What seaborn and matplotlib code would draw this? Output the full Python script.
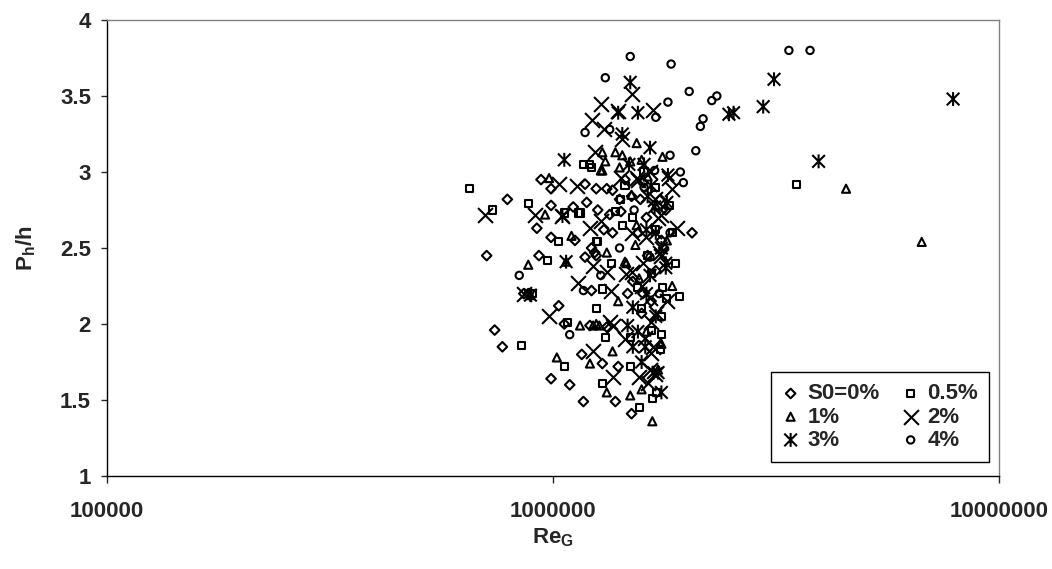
import numpy as np
import matplotlib
matplotlib.use("Agg")
import matplotlib.pyplot as plt
from matplotlib.path import Path
import seaborn as sns

# ── data (Re_G in millions, Ph/h) ─────────────────────────────

re_s0 = [0.79, 0.92, 0.94, 0.99, 0.99, 1.11, 1.18, 0.71, 0.74, 0.77, 0.93, 0.86,
         1.03, 1.06, 0.99, 1.09, 1.17, 0.99, 1.18, 1.22, 1.25, 1.22, 1.21, 1.32,
         1.16, 1.29, 1.38, 1.40, 1.50, 2.05, 1.19, 1.25, 1.32, 1.41, 1.50, 1.57,
         1.26, 1.34, 1.24, 1.36, 1.42, 1.59, 1.74, 1.79, 1.75, 1.63, 1.58, 1.59,
         1.51, 0.88, 1.45, 1.62, 1.70, 1.55, 1.47, 1.66, 1.30, 1.12, 1.36, 1.77]
ph_s0 = [2.82, 2.63, 2.95, 2.78, 2.89, 2.77, 2.92, 2.45, 1.96, 1.85, 2.45, 2.20,
         2.12, 2.00, 1.64, 1.60, 1.49, 2.57, 2.44, 2.50, 2.45, 2.22, 1.99, 1.98,
         1.80, 1.74, 1.49, 1.72, 1.41, 2.60, 2.80, 2.89, 2.89, 2.82, 2.84, 2.82,
         2.75, 2.72, 2.47, 2.60, 2.74, 2.93, 2.82, 2.75, 2.55, 2.45, 2.07, 2.20,
         2.28, 2.20, 2.95, 2.70, 2.35, 2.60, 2.20, 2.15, 2.62, 2.55, 2.88, 2.50]

re_s05 = [0.651, 0.73, 0.88, 1.06, 1.14, 1.17, 1.21, 1.22, 0.97, 0.90, 0.85, 1.08,
          1.06, 1.03, 1.25, 1.29, 1.25, 1.31, 1.29, 1.56, 1.67, 1.71, 1.76, 1.80,
          1.75, 1.75, 1.74, 3.51, 1.38, 1.43, 1.51, 1.45, 1.55, 1.66, 1.49, 1.49,
          1.66, 1.70, 1.15, 1.26, 1.60, 1.82, 1.85, 1.88, 1.63, 1.58, 1.42, 1.35,
          1.92, 1.70]
ph_s05 = [2.89, 2.75, 2.79, 2.73, 2.73, 3.05, 3.05, 3.03, 2.42, 2.20, 1.86, 2.01,
          1.72, 2.54, 2.54, 2.23, 2.10, 1.91, 1.61, 1.45, 1.51, 1.55, 2.24, 2.17,
          2.05, 1.93, 1.83, 2.92, 2.74, 2.65, 2.70, 2.91, 2.24, 1.96, 1.91, 1.72,
          2.33, 2.62, 2.73, 2.54, 3.00, 2.78, 2.60, 2.40, 2.45, 2.10, 2.82, 2.40,
          2.18, 2.90]

re_s1 = [0.96, 0.98, 1.28, 0.88, 0.89, 1.02, 1.10, 1.32, 1.15, 1.23, 1.27, 1.21,
         1.32, 1.49, 1.67, 1.58, 1.54, 1.38, 1.43, 1.49, 1.41, 1.76, 4.54, 6.71,
         1.07, 1.74, 1.29, 1.58, 1.31, 1.29, 1.63, 1.54, 1.53, 1.46, 1.75, 1.25,
         1.45, 1.70, 1.80, 1.56, 1.40, 1.85, 1.62, 1.50, 1.72, 1.36]
ph_s1 = [2.72, 2.96, 3.01, 2.39, 2.19, 1.78, 2.58, 2.47, 1.99, 1.99, 1.99, 1.74,
         1.55, 1.53, 1.36, 1.57, 3.19, 3.13, 3.11, 3.07, 3.03, 3.10, 2.89, 2.54,
         2.41, 1.87, 3.13, 3.08, 3.07, 3.01, 2.97, 2.65, 2.52, 2.40, 1.87, 2.00,
         2.41, 2.78, 2.55, 2.30, 2.15, 2.25, 1.95, 2.85, 1.70, 1.82]

re_s2 = [0.704, 0.91, 1.03, 1.13, 1.22, 1.28, 1.30, 1.50, 1.40, 1.68, 1.82, 1.85,
         1.90, 0.86, 0.98, 1.14, 1.23, 1.35, 1.23, 1.36, 1.56, 1.65, 1.69, 1.36,
         1.32, 1.46, 1.50, 1.43, 1.24, 1.42, 1.54, 1.65, 1.28, 1.69, 1.75, 1.62,
         1.74, 1.59, 1.65, 1.70, 1.61, 1.66, 1.63, 1.66, 1.34, 1.21, 1.05, 1.55,
         1.75, 1.58, 1.80, 1.50, 1.68, 1.45, 1.72]
ph_s2 = [2.72, 2.72, 2.92, 2.91, 3.34, 3.45, 3.28, 3.51, 3.40, 3.41, 2.96, 2.89,
         2.63, 2.20, 2.05, 2.27, 2.38, 2.22, 1.82, 1.65, 1.65, 1.70, 1.67, 1.99,
         2.34, 2.33, 2.34, 3.22, 3.13, 2.96, 2.96, 3.00, 2.68, 2.82, 2.72, 2.57,
         2.47, 2.40, 2.17, 2.07, 1.91, 1.81, 1.61, 2.01, 2.01, 2.63, 2.71, 2.95,
         2.45, 2.25, 2.15, 2.60, 1.85, 1.90, 2.70]

re_s3 = [1.06, 1.40, 1.49, 1.55, 1.65, 1.60, 1.81, 1.51, 1.47, 1.68, 1.72, 2.48,
         2.54, 3.13, 2.96, 3.94, 7.89, 1.43, 1.05, 1.07, 1.63, 1.69, 1.66, 1.79,
         1.51, 1.58, 1.65, 1.79, 1.61, 0.89, 1.70, 1.75, 1.62, 1.55, 1.70, 1.75,
         1.48, 1.80, 1.62]
ph_s3 = [3.08, 3.39, 3.59, 3.39, 3.16, 3.05, 2.98, 2.11, 1.99, 1.68, 1.68, 3.38,
         3.39, 3.61, 3.43, 3.07, 3.48, 3.25, 2.71, 2.41, 2.84, 2.77, 2.91, 2.40,
         1.85, 1.75, 2.32, 2.37, 1.85, 2.19, 2.60, 2.50, 2.20, 1.95, 2.05, 1.55,
         3.05, 2.80, 2.62]

re_s4 = [1.18, 1.31, 1.49, 1.70, 1.81, 1.84, 2.02, 2.27, 2.33, 2.17, 2.14, 2.09,
         1.83, 1.93, 1.96, 3.38, 3.77, 0.84, 1.17, 1.09, 1.41, 1.69, 1.34, 1.65,
         1.83, 1.60, 1.52, 1.73, 1.28]
ph_s4 = [3.26, 3.62, 3.76, 3.36, 3.46, 3.71, 3.53, 3.47, 3.50, 3.35, 3.30, 3.14,
         3.11, 3.00, 2.93, 3.80, 3.80, 2.32, 2.22, 1.93, 2.50, 3.01, 3.28, 2.44,
         2.60, 2.90, 2.75, 2.20, 2.32]

labels = ["S0=0%", "0.5%", "1%", "2%", "3%", "4%"]

# ── Excel-like star marker: X with a vertical bar ─────────────
star = Path([(-1, -1), (1, 1), (-1, 1), (1, -1), (0, -1.1), (0, 1.1)],
            [Path.MOVETO, Path.LINETO, Path.MOVETO, Path.LINETO,
             Path.MOVETO, Path.LINETO])

series = [
    (re_s0, ph_s0, "D", 24, True),
    (re_s05, ph_s05, "s", 26, True),
    (re_s1, ph_s1, "^", 34, True),
    (re_s2, ph_s2, "x", 115, False),
    (re_s3, ph_s3, star, 100, True),
    (re_s4, ph_s4, "o", 28, True),
]

sns.set_style("white")
plt.rcParams["font.family"] = ["Liberation Sans", "DejaVu Sans"]
plt.rcParams["font.weight"] = "bold"
plt.rcParams["mathtext.fontset"] = "custom"
plt.rcParams["mathtext.bf"] = "Liberation Sans:bold"
plt.rcParams["mathtext.rm"] = "Liberation Sans:bold"
plt.rcParams["mathtext.it"] = "Liberation Sans:bold"

fig, ax = plt.subplots(figsize=(10.52, 5.69), dpi=100)
fig.subplots_adjust(left=107 / 1052, right=999 / 1052,
                    bottom=1 - 476 / 569, top=1 - 20 / 569)

for (xs, ys, mk, sz, filled), lab in zip(series, labels):
    xs = np.array(xs) * 1e6
    if filled:
        sns.scatterplot(x=xs, y=ys, marker=mk, s=sz, color="black",
                        facecolor="none", edgecolor="black", linewidth=1.5,
                        ax=ax, label=lab, legend=False)
    else:
        sns.scatterplot(x=xs, y=ys, marker=mk, s=sz, color="black",
                        linewidth=1.5, ax=ax, label=lab, legend=False)

ax.set_xscale("log")
ax.set_xlim(1e5, 1e7)
ax.set_ylim(1, 4)
ax.set_xticks([1e5, 1e6, 1e7])
ax.set_xticklabels(["100000", "1000000", "10000000"])
ax.xaxis.set_minor_locator(matplotlib.ticker.NullLocator())
ax.set_yticks(np.arange(1, 4.01, 0.5))
ax.set_yticklabels(["1", "1.5", "2", "2.5", "3", "3.5", "4"])

ax.tick_params(axis="x", direction="out", length=5, width=1, pad=13,
               labelsize=16, bottom=True)
ax.tick_params(axis="y", direction="out", length=4.5, width=1, pad=7,
               labelsize=16, left=True)
for t in ax.get_xticklabels() + ax.get_yticklabels():
    t.set_fontweight("bold")

for side in ["left", "bottom"]:
    ax.spines[side].set_color("black")
    ax.spines[side].set_linewidth(1.0)
for side in ["top", "right"]:
    ax.spines[side].set_color("#808080")
    ax.spines[side].set_linewidth(1.0)

ax.set_xlabel(r"$\mathbf{Re_G}$", fontsize=16)
ax.set_ylabel(r"$\mathbf{P_h/h}$", fontsize=16)
ax.xaxis.set_label_coords(0.5, -0.11)
ax.yaxis.set_label_coords(-0.077, 0.5)

# legend: rows (0%, 0.5%), (1%, 2%), (3%, 4%)
handles, labs = ax.get_legend_handles_labels()
order = [0, 2, 4, 1, 3, 5]
leg = ax.legend([handles[i] for i in order], [labs[i] for i in order],
                ncol=2, loc="lower right", bbox_to_anchor=(0.989, 0.031),
                borderaxespad=0, frameon=True, fancybox=False,
                edgecolor="black", framealpha=1,
                handlelength=0.8, handletextpad=0.35, columnspacing=1.0,
                labelspacing=0.1, borderpad=0.5,
                prop={"weight": "bold", "size": 16})
leg.get_frame().set_linewidth(1.0)

fig.savefig("out.png", dpi=100)
